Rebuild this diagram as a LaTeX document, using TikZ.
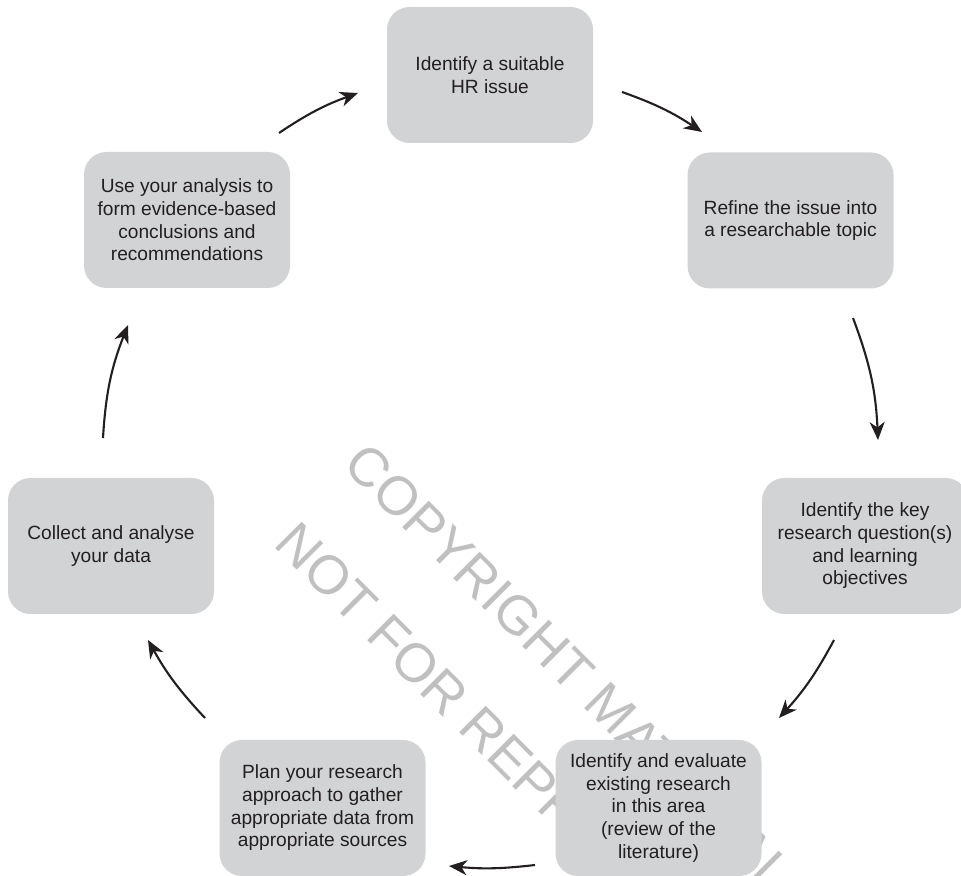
\documentclass[tikz,border=0pt]{standalone}
\usepackage{fontspec}
\setmainfont{Liberation Sans}
\usetikzlibrary{arrows.meta}

\definecolor{boxgray}{RGB}{209,211,212}
\definecolor{inkgray}{RGB}{35,31,32}
\definecolor{markgray}{RGB}{192,192,192}

\begin{document}
\begin{tikzpicture}[
        stage/.style={fill=boxgray, rounded corners=0.45cm, minimum width=4.12cm, minimum height=2.72cm,
            inner sep=0pt, align=center, text=inkgray, font=\fontsize{10.9}{12.9}\selectfont},
        cyc/.style={inkgray, line width=1.2pt, -{Stealth[length=3.6mm, width=3mm, inset=1.1mm]}},
        stamp/.style={markgray, rotate=-45, anchor=base west, inner sep=0pt, font=\fontsize{31}{31}\selectfont}
    ]
        \useasboundingbox (0, 0) rectangle (19.22, 17.52);
        
        % Watermark
        \node[stamp] (wm1) at (6.83, 8.20) {COPYRIGHT MATERIAL};
        \node[stamp] (wm2) at (5.44, 6.61) {NOT FOR REPRODUCTION};
        
        % Stages
        \node[stage] (s1) at (9.80, 16.02) {Identify a suitable\\HR issue};
        \node[stage] (s2) at (15.81, 13.11) {Refine the issue into\\a researchable topic};
        \node[stage] (s3) at (17.30, 6.60) {Identify the key\\research question(s)\\and learning\\objectives};
        \node[stage] (s4) at (13.17, 1.36) {Identify and evaluate\\existing research\\in this area\\(review of the\\literature)};
        \node[stage] (s5) at (6.45, 1.36) {Plan your research\\approach to gather\\appropriate data from\\appropriate sources};
        \node[stage] (s6) at (2.22, 6.60) {Collect and analyse\\your data};
        \node[stage] (s7) at (3.74, 13.12) {Use your analysis to\\form evidence-based\\conclusions and\\recommendations};
        
        % Arrow ends
        \coordinate (a1s) at (12.44, 15.68);
        \coordinate (a1e) at (14.04, 14.88);
        \coordinate (a2s) at (17.06, 11.16);
        \coordinate (a2e) at (17.56, 8.72);
        \coordinate (a3s) at (16.68, 4.72);
        \coordinate (a3e) at (15.58, 3.16);
        \coordinate (a4s) at (10.70, 0.22);
        \coordinate (a4e) at (8.98, 0.20);
        \coordinate (a5s) at (4.10, 3.16);
        \coordinate (a5e) at (2.96, 4.72);
        \coordinate (a6s) at (2.06, 8.76);
        \coordinate (a6e) at (2.56, 11.02);
        \coordinate (a7s) at (5.58, 14.86);
        \coordinate (a7e) at (7.16, 15.66);
        
        % Cycle
        \draw[cyc] (a1s) to[bend left=7] (a1e);
        \draw[cyc] (a2s) to[bend left=9] (a2e);
        \draw[cyc] (a3s) to[bend left=7] (a3e);
        \draw[cyc] (a4s) to[bend left=6] (a4e);
        \draw[cyc] (a5s) to[bend left=7] (a5e);
        \draw[cyc] (a6s) to[bend left=9] (a6e);
        \draw[cyc] (a7s) to[bend left=7] (a7e);
    \end{tikzpicture}
\end{document}
